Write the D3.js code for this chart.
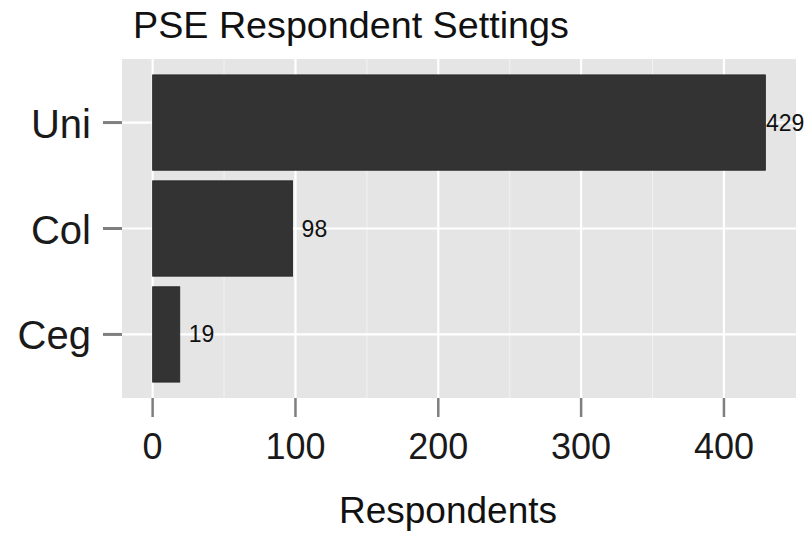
<!DOCTYPE html>
<html>
<head>
<meta charset="utf-8">
<script src="https://cdn.jsdelivr.net/npm/d3@7"></script>
<style>
html,body{margin:0;padding:0;background:#fff;}
svg{display:block;font-family:"Liberation Sans",Arial,Helvetica,sans-serif;}
</style>
</head>
<body>
<svg id="chart" width="811" height="535"></svg>
<script>
const categories = ["Uni", "Col", "Ceg"];
const values = [429, 98, 19];
const xTicks = [0, 100, 200, 300, 400];
const xMinor = [50, 150, 250, 350, 450];
const titleText = "PSE Respondent Settings";
const xTitle = "Respondents";

const W = 811, H = 535;
const panel = {left: 122, right: 796, top: 59, bottom: 398};
const svg = d3.select("#chart");

const maxV = d3.max(values);
const pad = maxV * 0.05;
const x = d3.scaleLinear().domain([-pad, maxV + pad]).range([panel.left, panel.right]);
const y = d3.scaleBand().domain(categories).range([panel.top, panel.bottom])
  .paddingInner(0.1).paddingOuter(0.15);

// panel background
svg.append("rect").attr("x", panel.left).attr("y", panel.top)
  .attr("width", panel.right - panel.left).attr("height", panel.bottom - panel.top)
  .attr("fill", "#e5e5e5");

// minor vertical grid
svg.append("g").selectAll("line").data(xMinor.filter(d => x(d) < panel.right - 1)).join("line")
  .attr("x1", d => x(d)).attr("x2", d => x(d))
  .attr("y1", panel.top).attr("y2", panel.bottom)
  .attr("stroke", "#f2f2f2").attr("stroke-width", 1);

// major vertical grid
svg.append("g").selectAll("line").data(xTicks).join("line")
  .attr("x1", d => x(d)).attr("x2", d => x(d))
  .attr("y1", panel.top).attr("y2", panel.bottom)
  .attr("stroke", "#ffffff").attr("stroke-width", 2.2);

// horizontal grid
svg.append("g").selectAll("line").data(categories).join("line")
  .attr("x1", panel.left).attr("x2", panel.right)
  .attr("y1", d => y(d) + y.bandwidth() / 2).attr("y2", d => y(d) + y.bandwidth() / 2)
  .attr("stroke", "#ffffff").attr("stroke-width", 2.2);

// bars
svg.append("g").selectAll("rect").data(categories).join("rect")
  .attr("x", x(0))
  .attr("y", d => y(d))
  .attr("width", (d, i) => x(values[i]) - x(0))
  .attr("height", y.bandwidth())
  .attr("fill", "#333333")
  .attr("stroke", "#222222").attr("stroke-width", 0.8);

// value labels
svg.append("g").selectAll("text").data(categories).join("text")
  .attr("x", (d, i) => Math.min(x(values[i]) + 9, W - 45))
  .attr("y", d => y(d) + y.bandwidth() / 2)
  .attr("dy", "0.35em")
  .attr("font-size", 23)
  .attr("fill", "#111")
  .text((d, i) => values[i]);

// x axis ticks
const xAxis = svg.append("g");
xAxis.selectAll("line").data(xTicks).join("line")
  .attr("x1", d => x(d)).attr("x2", d => x(d))
  .attr("y1", panel.bottom).attr("y2", panel.bottom + 19)
  .attr("stroke", "#7f7f7f").attr("stroke-width", 2.5);
xAxis.selectAll("text").data(xTicks).join("text")
  .attr("x", d => x(d)).attr("y", 459)
  .attr("text-anchor", "middle")
  .attr("font-size", 36)
  .attr("fill", "#1a1a1a")
  .text(d => d);

// y axis ticks
const yAxis = svg.append("g");
yAxis.selectAll("line").data(categories).join("line")
  .attr("x1", panel.left - 19).attr("x2", panel.left)
  .attr("y1", d => y(d) + y.bandwidth() / 2).attr("y2", d => y(d) + y.bandwidth() / 2)
  .attr("stroke", "#7f7f7f").attr("stroke-width", 3);
yAxis.selectAll("text").data(categories).join("text")
  .attr("x", 91).attr("y", d => y(d) + y.bandwidth() / 2 + 15)
  .attr("text-anchor", "end")
  .attr("font-size", 40)
  .attr("fill", "#1a1a1a")
  .text(d => d);

// axis title
svg.append("text").attr("x", 448).attr("y", 523)
  .attr("text-anchor", "middle").attr("font-size", 37).attr("fill", "#111")
  .text(xTitle);

// chart title
svg.append("text").attr("x", 133).attr("y", 38)
  .attr("font-size", 37.7).attr("fill", "#111")
  .text(titleText);
</script>
</body>
</html>
